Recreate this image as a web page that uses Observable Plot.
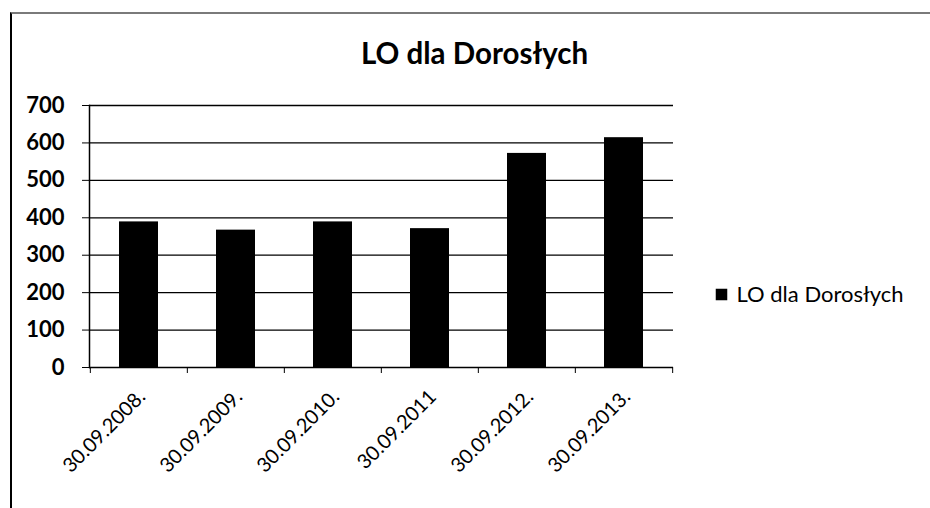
<!DOCTYPE html>
<html>
<head>
<meta charset="utf-8">
<script src="https://cdn.jsdelivr.net/npm/d3@7"></script>
<script src="https://cdn.jsdelivr.net/npm/@observablehq/plot@0.6"></script>
<style>
  html, body { margin: 0; padding: 0; background: #fff; }
  #wrap { position: relative; width: 930px; height: 508px; overflow: hidden; }
  #border { position: absolute; left: 10px; top: 12px; right: 0; bottom: 0;
            border-top: 2px solid #7a7a7a; border-left: 2px solid #000; }
  #chart { position: absolute; left: 0; top: 0; }
</style>
</head>
<body>
<div id="wrap"><div id="border"></div><div id="chart"></div></div>
<script>
const title = "LO dla Dorosłych";
const seriesName = "LO dla Dorosłych";
const dates = ["30.09.2008.", "30.09.2009.", "30.09.2010.", "30.09.2011", "30.09.2012.", "30.09.2013."];
const values = [389, 367, 389, 371, 572, 614];
const yTicks = [0, 100, 200, 300, 400, 500, 600, 700];

const data = dates.map((d, i) => ({date: d, value: values[i]}));

const W = 930, H = 508;
const mL = 89, mR = 257, mT = 105, mB = 141;
const step = (W - mL - mR) / dates.length;
const font = "Lato, 'Open Sans', sans-serif";
const midY = (mT + (H - mB)) / 2;

const plot = Plot.plot({
  width: W,
  height: H,
  marginLeft: mL,
  marginRight: mR,
  marginTop: mT,
  marginBottom: mB,
  style: {background: "transparent", fontFamily: font, color: "#000", overflow: "visible"},
  x: {domain: dates, paddingInner: 0.6, paddingOuter: 0.3, axis: null},
  y: {domain: [0, 700], axis: null},
  marks: [
    Plot.ruleY(yTicks, {stroke: "#000", strokeWidth: 1.3}),
    Plot.barY(data, {x: "date", y: "value", fill: "#000"}),
    Plot.frame({anchor: "left", stroke: "#000", strokeWidth: 1.5}),
    Plot.axisY({ticks: yTicks, label: null, tickSize: 7, tickPadding: 18, fontSize: 22, fontWeight: "bold", stroke: "#000"}),
    Plot.axisX({label: null, tickSize: 6, text: null, dx: -step / 2, stroke: "#000"}),
    Plot.axisX([dates[dates.length - 1]], {label: null, tickSize: 6, text: null, dx: step / 2, stroke: "#000"}),
    Plot.axisX({label: null, tickSize: 0, tickPadding: 26, tickRotate: -45, dx: 3, fontSize: 20}),
    Plot.text([title], {frameAnchor: "top", lineAnchor: "middle", dx: 474 - (mL + (W - mR)) / 2, dy: 54 - mT, fontSize: 29.5, fontWeight: "bold", fill: "#000"}),
    Plot.dot([seriesName], {frameAnchor: "right", symbol: "square", r: 6.5, fill: "#000", stroke: null, dx: 48, dy: 294 - midY}),
    Plot.text([seriesName], {frameAnchor: "right", textAnchor: "start", lineAnchor: "middle", dx: 63, dy: 294 - midY, fontSize: 22, fill: "#000"})
  ]
});
document.getElementById("chart").appendChild(plot);
</script>
</body>
</html>
